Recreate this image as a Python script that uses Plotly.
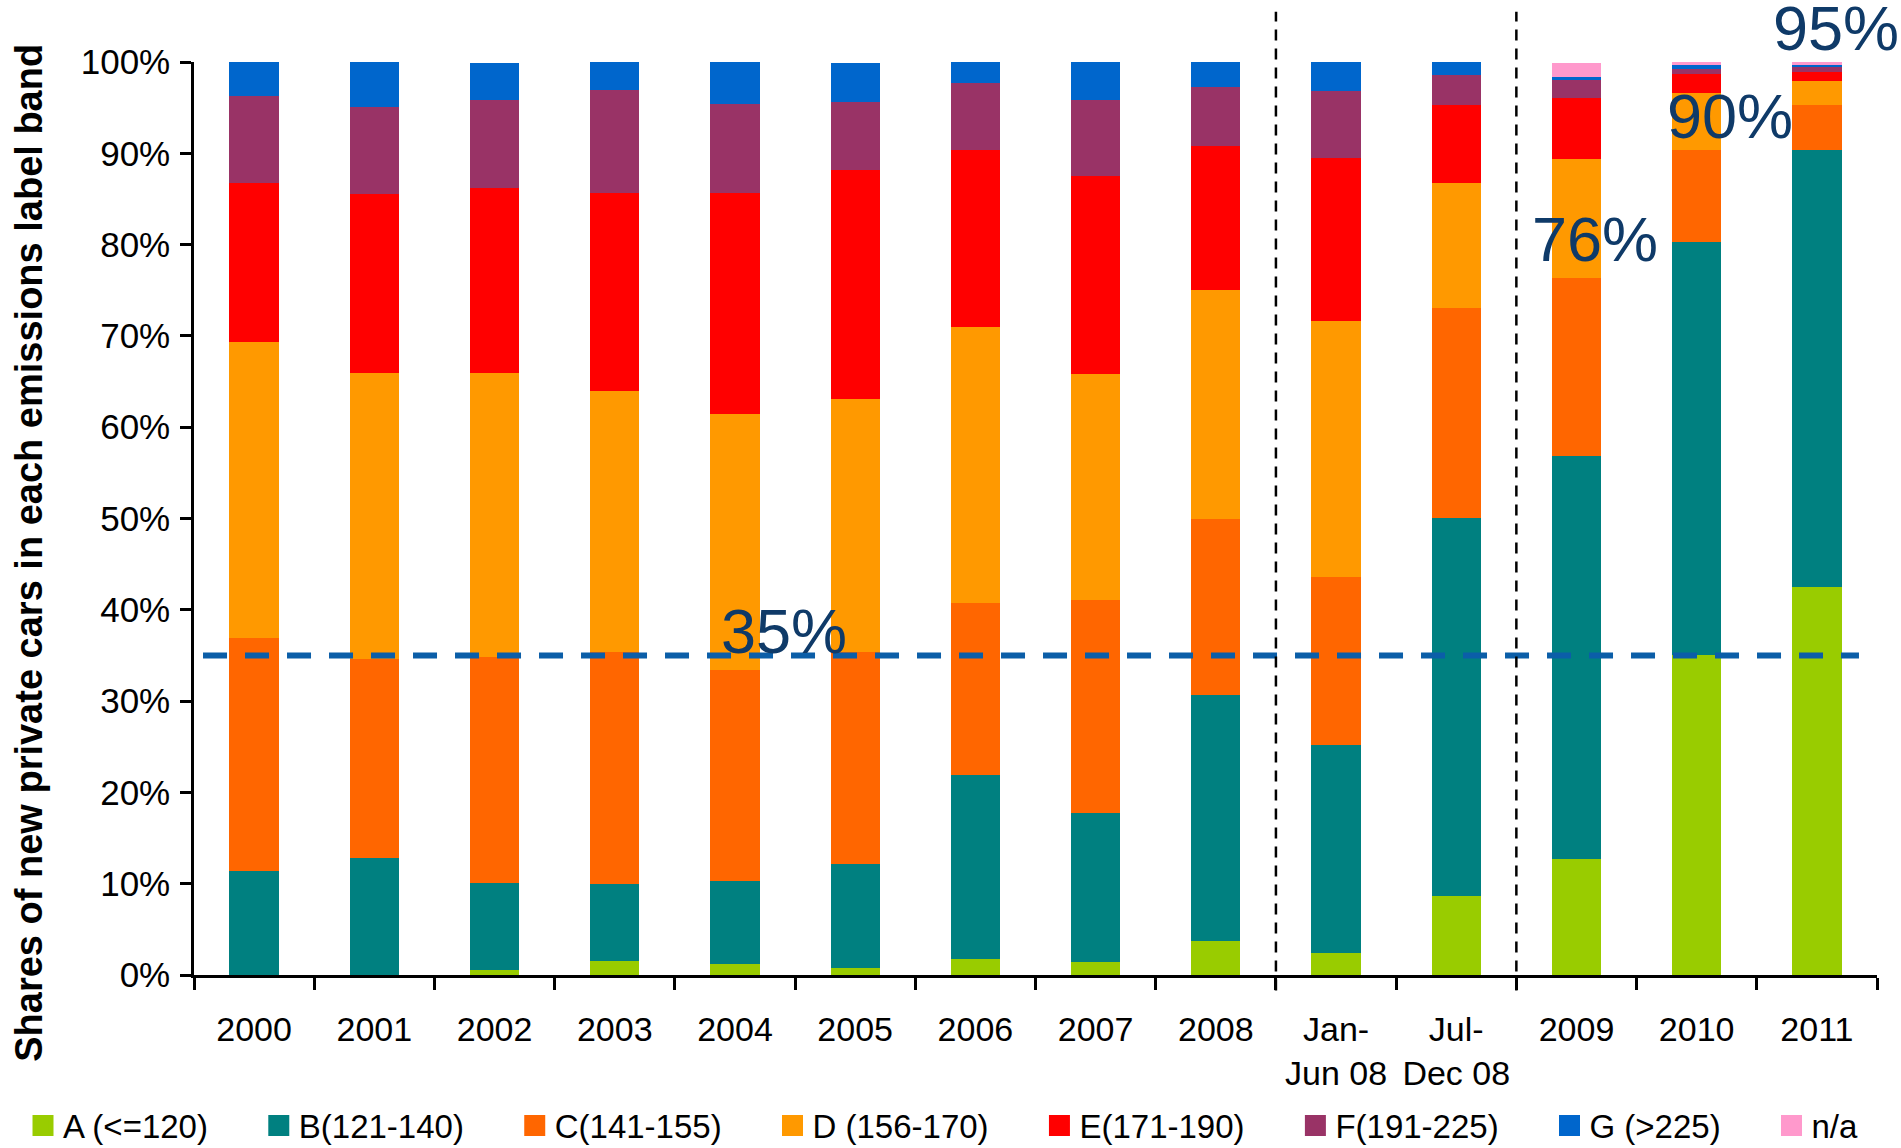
import plotly.graph_objects as go

# Categories on the x axis (two half-year periods of 2008 shown separately)
categories = ["2000", "2001", "2002", "2003", "2004", "2005", "2006", "2007", "2008",
              "Jan-<br>Jun 08", "Jul-<br>Dec 08", "2009", "2010", "2011"]

# Share (%) of new private cars in each emissions label band
band_a = [0.0, 0.0, 0.5, 1.5, 1.2, 0.8, 1.7, 1.4, 3.7, 2.4, 8.7, 12.7, 35.0, 42.5]
band_b = [11.4, 12.8, 9.6, 8.5, 9.1, 11.4, 20.2, 16.3, 27.0, 22.8, 41.4, 44.1, 45.3, 47.9]
band_c = [25.5, 21.8, 24.7, 25.4, 23.1, 23.2, 18.9, 23.4, 19.2, 18.4, 23.0, 19.5, 10.1, 4.9]
band_d = [32.4, 31.3, 31.1, 28.6, 28.0, 27.7, 30.2, 24.7, 25.1, 28.0, 13.7, 13.1, 6.2, 2.6]
band_e = [17.4, 19.6, 20.3, 21.6, 24.3, 25.1, 19.4, 21.7, 15.8, 17.9, 8.5, 6.7, 2.1, 1.0]
band_f = [9.6, 9.6, 9.6, 11.3, 9.7, 7.4, 7.3, 8.3, 6.5, 7.3, 3.3, 1.9, 0.5, 0.5]
band_g = [3.7, 5.0, 4.1, 3.3, 4.6, 4.3, 2.4, 4.3, 2.8, 3.2, 1.5, 0.4, 0.5, 0.3]
band_na = [0.0, 0.0, 0.0, 0.0, 0.0, 0.0, 0.0, 0.0, 0.0, 0.0, 0.0, 1.5, 0.3, 0.3]

band_names = ["A (<=120)", "B(121-140)", "C(141-155)", "D (156-170)",
              "E(171-190)", "F(191-225)", "G (>225)", "n/a"]
band_colors = ["#99CC00", "#008080", "#FF6600", "#FF9900",
               "#FF0000", "#993366", "#0066CC", "#FF99CC"]
band_values = [band_a, band_b, band_c, band_d, band_e, band_f, band_g, band_na]

# Target line and highlighted cumulative shares (A+B+C); y is the bottom of each label
target_share = 35
callouts = [("35%", 4.41, 33.6), ("76%", 11.15, 76.6), ("90%", 12.28, 90.0), ("95%", 13.16, 99.7)]
period_breaks = [8.5, 10.5]

FONT = "Liberation Sans, Arial, sans-serif"
NBSP = "\u00a0"

fig = go.Figure()

for name, color, vals in zip(band_names, band_colors, band_values):
    fig.add_trace(go.Bar(x=categories, y=vals, name=name,
                         marker=dict(color=color, line=dict(width=0)),
                         showlegend=False))

# Legend entries with square swatches (extra spacing after all but the last entry)
for i, (name, color) in enumerate(zip(band_names, band_colors)):
    label = name if i == len(band_names) - 1 else name + NBSP * 5
    fig.add_trace(go.Scatter(x=[None], y=[None], mode="markers", name=label,
                             marker=dict(symbol="square", size=16, color=color,
                                         line=dict(color=color, width=5))))

# 35% target line
fig.add_shape(type="line", xref="x", yref="y", x0=-0.425, x1=13.35, y0=target_share, y1=target_share,
              line=dict(color="#0B5EA8", width=6, dash="24px,18px"), layer="above")

# Period separators
for xb in period_breaks:
    fig.add_shape(type="line", xref="x", yref="paper", x0=xb, x1=xb, y0=-0.017, y1=1.055,
                  line=dict(color="black", width=2.5, dash="11px,8px"), layer="above")

for text, xc, yb in callouts:
    fig.add_annotation(x=xc, y=yb, xref="x", yref="y", text=text, showarrow=False,
                       xanchor="center", yanchor="bottom",
                       font=dict(family=FONT, size=63, color="#0F3A68"))

# Vertical axis title
fig.add_annotation(x=-0.0977, y=0.462, xref="paper", yref="paper", textangle=-90,
                   text="<b>Shares of new private cars in each emissions label band</b>",
                   showarrow=False, xanchor="center", yanchor="middle",
                   font=dict(family=FONT, size=38, color="black"))

fig.update_layout(
    width=1901, height=1148,
    margin=dict(l=194, r=24, t=62, b=173, autoexpand=False),
    paper_bgcolor="white", plot_bgcolor="white",
    barmode="stack", bargap=0.59,
    font=dict(family=FONT, size=34, color="black"),
    legend=dict(orientation="h", x=-0.1016, xanchor="left", y=-0.165, yanchor="middle",
                font=dict(family=FONT, size=33, color="black"),
                traceorder="normal", bgcolor="rgba(0,0,0,0)"),
    xaxis=dict(type="category", range=[-0.5, 13.5], showline=True, linecolor="black", linewidth=2.5,
               ticks="outside", tickson="boundaries", ticklen=12, tickwidth=2.5, tickcolor="black",
               tickfont=dict(family=FONT, size=34, color="black"), showgrid=False,
               ticklabelstandoff=22),
    yaxis=dict(range=[0, 100], tickvals=list(range(0, 101, 10)),
               ticktext=[f"{v}%" for v in range(0, 101, 10)],
               showline=True, linecolor="black", linewidth=2.5, ticks="outside", ticklen=11,
               tickwidth=2.5, tickcolor="black", showgrid=False, zeroline=False,
               tickfont=dict(family=FONT, size=35, color="black"), ticklabelstandoff=3),
)

fig.write_html("out.html")
